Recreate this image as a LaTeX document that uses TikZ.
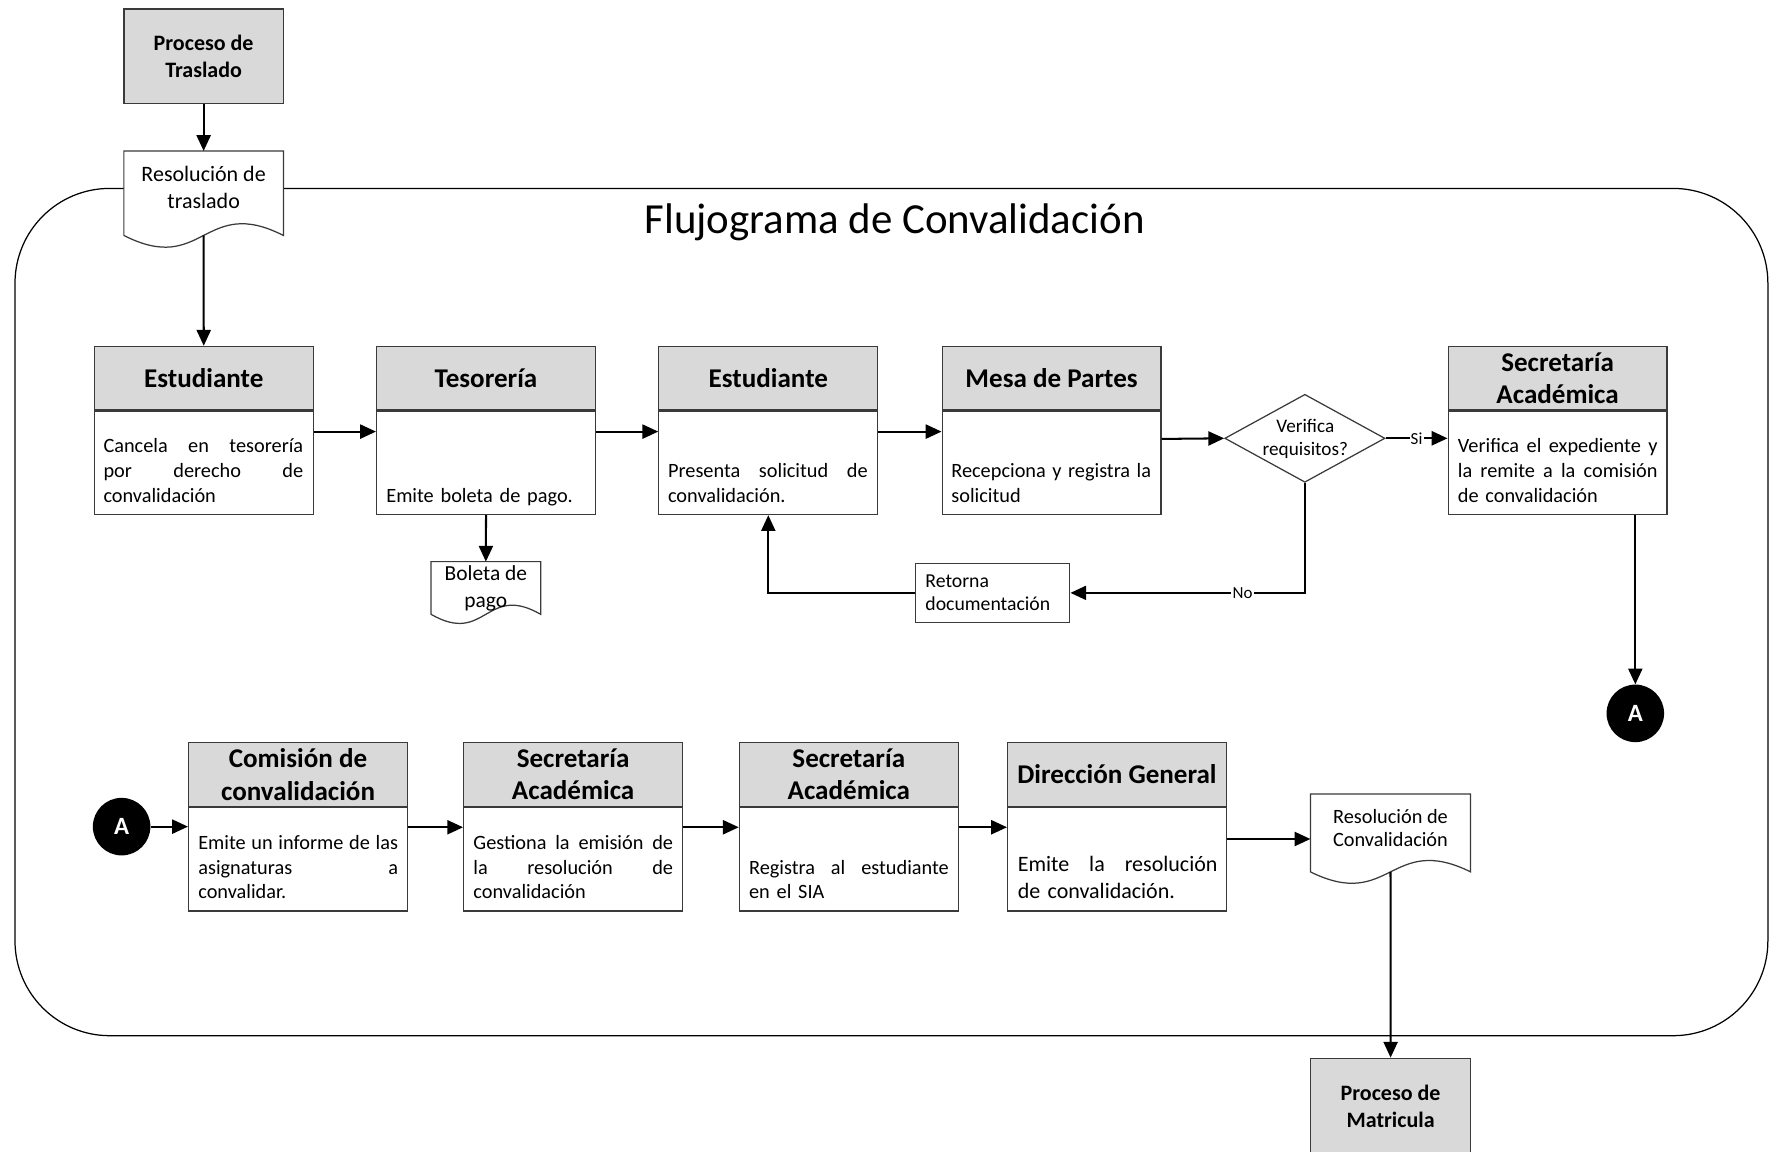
\documentclass[tikz,border=0pt]{standalone}
\usepackage{fontspec}
\setmainfont{Carlito}
\usetikzlibrary{arrows.meta,shapes.geometric,calc}

\definecolor{hdrgray}{HTML}{D9D9D9}
\definecolor{edgegray}{HTML}{3A3A3A}

\newlength\bodyw
\setlength\bodyw{177pt}
% one fully justified line of a box text (word spaces stretch evenly)
\newcommand\jl[1]{\makebox[\bodyw][s]{\spaceskip=\fontdimen2\font plus 1fil\relax #1}}
% outline of a document symbol (wavy bottom) around an invisible node
\newcommand\docoutline[2]{%
  \draw[docline] (#1.north west) -- (#1.north east) -- (#1.south east)
    .. controls ($(#1.south)+(0,-#2)$) and ($(#1.south)+(0,#2)$) .. (#1.south west) -- cycle;}

\tikzset{
  hdr/.style={draw=edgegray, line width=1.1pt, fill=hdrgray, minimum width=194pt,
    minimum height=56.5pt, inner sep=0pt, align=center,
    font=\bfseries\fontsize{24}{28.5}\selectfont},
  bodybox/.style={draw=edgegray, line width=1.1pt, fill=white, minimum width=194pt,
    minimum height=91.5pt, inner sep=0pt, anchor=north},
  bodytxt/.style={anchor=south west, inner sep=0pt, text width=\bodyw, align=left,
    font=\fontsize{18}{22}\selectfont},
  procbox/.style={draw=edgegray, line width=1.1pt, fill=hdrgray, inner sep=0pt,
    align=center, font=\bfseries\fontsize{19.5}{24}\selectfont},
  docarea/.style={inner sep=0pt},
  docline/.style={draw=edgegray, line width=1.1pt, fill=white},
  doctxt/.style={inner sep=0pt, align=center},
  arr/.style={line width=1.8pt, -{Triangle[length=14pt,width=12.5pt]}},
  conn/.style={circle, fill=black, minimum size=51pt, inner sep=0pt, text=white,
    font=\bfseries\fontsize{22}{26}\selectfont},
  lbl/.style={fill=white, inner sep=1pt, font=\fontsize{15}{18}\selectfont},
  decision/.style={diamond, draw=edgegray, line width=1.1pt, fill=white,
    minimum width=142pt, minimum height=78pt, inner sep=0pt},
  notebox/.style={draw=edgegray, line width=1.1pt, fill=white, inner xsep=9pt,
    inner ysep=0pt, text width=119pt, minimum height=52.3pt, align=left,
    font=\fontsize{17.5}{21}\selectfont},
}

\begin{document}
\begin{tikzpicture}[x=1pt,y=-1pt]
\useasboundingbox (0,0) rectangle (1568,1021);

% enclosing frame of the flowchart
\draw[line width=1.1pt, rounded corners=84pt] (13.3,167) rectangle (1567,918);

\node[font=\fontsize{38}{46}\selectfont, anchor=base, inner sep=0pt] (ttl) at (793,207)
  {Flujograma de Convalidación};

% external processes
\node[procbox, minimum width=141pt, minimum height=84pt] (pt) at (180.5,50) {Proceso de\\Traslado};
\node[procbox, minimum width=142pt, minimum height=85pt] (pm) at (1232.6,980.5) {Proceso de\\Matricula};

% documents
\node[docarea, minimum width=141pt, minimum height=74.5pt] (rt) at (180.5,171.25) {};
\docoutline{rt}{36}
\node[doctxt, font=\fontsize{19.5}{23.7}\selectfont] (rtt) at (180.5,166) {Resolución de\\traslado};

\node[docarea, minimum width=96.7pt, minimum height=46.3pt] (bp) at (430.65,521.15) {};
\docoutline{bp}{28}
\node[doctxt, font=\fontsize{19}{24}\selectfont] (bpt) at (430.65,521.5) {Boleta de\\pago};

\node[docarea, minimum width=141.6pt, minimum height=68.6pt] (rc) at (1232.5,738.3) {};
\docoutline{rc}{35}
\node[doctxt, font=\fontsize{18}{21}\selectfont] (rct) at (1232.5,734) {Resolución de\\Convalidación};

% first row of activities
\node[hdr] (e1h) at (180.6,335.25) {Estudiante};
\node[bodybox] (e1b) at (e1h.south) {};
\node[bodytxt] (e1t) at ([xshift=8.5pt,yshift=4.4pt]e1b.south west)
  {\jl{Cancela en tesorería}\\\jl{por derecho de}\\convalidación\strut};

\node[hdr] (tsh) at (430.8,335.25) {Tesorería};
\node[bodybox] (tsb) at (tsh.south) {};
\node[bodytxt] (tst) at ([xshift=9pt,yshift=4.4pt]tsb.south west)
  {Emite boleta de pago.\strut};

\node[hdr] (e2h) at (681,335.25) {Estudiante};
\node[bodybox] (e2b) at (e2h.south) {};
\node[bodytxt] (e2t) at ([xshift=8.5pt,yshift=4.4pt]e2b.south west)
  {\jl{Presenta solicitud de}\\convalidación.\strut};

\node[hdr] (mph) at (932.1,335.25) {Mesa de Partes};
\node[bodybox] (mpb) at (mph.south) {};
\node[bodytxt] (mpt) at ([xshift=8.5pt,yshift=4.4pt]mpb.south west)
  {\jl{Recepciona y registra la}\\solicitud\strut};

\node[hdr] (s1h) at (1380.6,335.25) {Secretaría\\Académica};
\node[bodybox] (s1b) at (s1h.south) {};
\node[bodytxt] (s1t) at ([xshift=9pt,yshift=4.4pt]s1b.south west)
  {\jl{Verifica el expediente y}\\\jl{la remite a la comisión}\\de convalidación\strut};

% decision and return note
\node[decision] (vd) at (1156.6,388.5) {};
\node[inner sep=0pt, align=center, font=\fontsize{17}{21}\selectfont] (vdt) at (1157,389) {Verifica\\requisitos?};
\node[notebox] (rd) at (879.75,525.5) {Retorna\\documentación};

% off-page connectors
\node[conn] (a1) at (1449.5,632.3) {A};
\node[conn] (a2) at (107.8,732.7) {A};

% second row of activities
\node[hdr] (cmh) at (264.15,686.55) {Comisión de\\convalidación};
\node[bodybox] (cmb) at (cmh.south) {};
\node[bodytxt] (cmt) at ([xshift=9pt,yshift=4.4pt]cmb.south west)
  {\jl{Emite un informe de las}\\\jl{asignaturas a}\\convalidar.\strut};

\node[hdr] (s2h) at (508,686.55) {Secretaría\\Académica};
\node[bodybox] (s2b) at (s2h.south) {};
\node[bodytxt] (s2t) at ([xshift=9pt,yshift=4.4pt]s2b.south west)
  {\jl{Gestiona la emisión de}\\\jl{la resolución de}\\convalidación\strut};

\node[hdr] (s3h) at (752.35,686.55) {Secretaría\\Académica};
\node[bodybox] (s3b) at (s3h.south) {};
\node[bodytxt] (s3t) at ([xshift=9pt,yshift=4.4pt]s3b.south west)
  {\jl{Registra al estudiante}\\en el SIA\strut};

\node[hdr] (drh) at (990.1,686.55) {Dirección General};
\node[bodybox] (drb) at (drh.south) {};
\node[bodytxt, font=\fontsize{19.5}{24}\selectfont] (drt) at ([xshift=9.4pt,yshift=3.8pt]drb.south west)
  {\jl{Emite la resolución}\\de convalidación.\strut};

% connectors
\draw[arr] (pt.south) -- (rt.north);
\draw[arr] (rt.south) -- (e1h.north);
\draw[arr] ([yshift=-18.5pt]e1b.north east) -- ([yshift=-18.5pt]tsb.north west);
\draw[arr] ([yshift=-18.5pt]tsb.north east) -- ([yshift=-18.5pt]e2b.north west);
\draw[arr] ([yshift=-18.5pt]e2b.north east) -- ([yshift=-18.5pt]mpb.north west);
\draw[arr] (tsb.south) -- (bp.north);
\draw[arr] ([yshift=-25pt]mpb.north east) -- (vd.west);
\draw[arr] (vd.east) -- node[lbl] (si) {Si} (vd.east -| s1b.west);
\draw[arr] (vd.south) |- node[lbl, pos=0.633] (no) {No} (rd.east);
\draw[arr] (rd.west) -| (e2b.south);
\draw[arr] (a1.north |- s1b.south) -- (a1.north);

\draw[arr] (a2.east) -- (a2.east -| cmb.west);
\draw[arr] ([yshift=-17.9pt]cmb.north east) -- ([yshift=-17.9pt]s2b.north west);
\draw[arr] ([yshift=-17.9pt]s2b.north east) -- ([yshift=-17.9pt]s3b.north west);
\draw[arr] ([yshift=-17.9pt]s3b.north east) -- ([yshift=-17.9pt]drb.north west);
\draw[arr] ([yshift=-28.3pt]drb.north east) -- ([yshift=-28.3pt]drb.north east -| rc.west);
\draw[arr] (rc.south) -- (pm.north);
\end{tikzpicture}
\end{document}
